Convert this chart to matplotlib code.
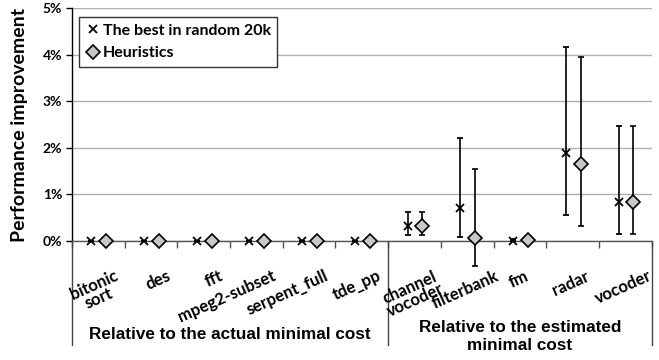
import numpy as np
import matplotlib
matplotlib.use("Agg")
import matplotlib.pyplot as plt
from matplotlib.lines import Line2D
from matplotlib.transforms import blended_transform_factory

plt.rcParams['font.family'] = ['Lato', 'DejaVu Sans']

# data (percent)
categories = ["bitonic\nsort", "des", "fft", "mpeg2-subset", "serpent_full", "tde_pp",
              "channel\nvocoder", "filterbank", "fm", "radar", "vocoder"]
best_val = [0, 0, 0, 0, 0, 0, 0.32, 0.70, 0.01, 1.88, 0.84]
best_hi = [0, 0, 0, 0, 0, 0, 0.62, 2.20, 0.04, 4.17, 2.46]
best_lo = [0, 0, 0, 0, 0, 0, 0.13, 0.09, -0.01, 0.56, 0.14]
heur_val = [0, 0, 0, 0, 0, 0, 0.32, 0.06, 0.02, 1.66, 0.84]
heur_hi = [0, 0, 0, 0, 0, 0, 0.62, 1.55, 0.02, 3.95, 2.46]
heur_lo = [0, 0, 0, 0, 0, 0, 0.13, -0.54, 0.02, 0.33, 0.14]
group_labels = ["Relative to the actual minimal cost", "Relative to the estimated\nminimal cost"]
group_sizes = [6, 5]

fig = plt.figure(figsize=(6.59, 3.6), dpi=100)
ax = fig.add_axes([0.109, 0.3306, 0.880, 0.647])

x = np.arange(len(categories))
bv, hv = np.array(best_val), np.array(heur_val)
best_err = [bv - np.array(best_lo), np.array(best_hi) - bv]
heur_err = [hv - np.array(heur_lo), np.array(heur_hi) - hv]

ax.errorbar(x - 0.13, bv, yerr=best_err, fmt='x', color='black', ms=6, mew=1.3,
            ecolor='black', elinewidth=1.2, capsize=2.5, capthick=1.2,
            clip_on=False, zorder=4)
ax.errorbar(x + 0.15, hv, yerr=heur_err, fmt='D', mfc='#c8c8c8', mec='black', ms=7.5,
            mew=1.2, ecolor='black', elinewidth=1.2, capsize=2.5, capthick=1.2,
            clip_on=False, zorder=5)

ax.set_xlim(-0.5, len(categories) - 0.5)
ax.set_ylim(0, 5)
ax.set_yticks(range(6))
ax.set_yticklabels([f"{i}%" for i in range(6)], fontsize=10, fontweight='bold')
ax.yaxis.grid(True, color='#b0b0b0', lw=1)
ax.set_axisbelow(True)
ax.tick_params(axis='y', length=4, width=1, direction='out', pad=3)
for s in ['top', 'right']:
    ax.spines[s].set_visible(False)
ax.spines['left'].set_linewidth(1)
ax.spines['bottom'].set_linewidth(1)
ax.spines['bottom'].set_color('#555555')

# x ticks at category boundaries
ax.set_xticks(np.arange(len(categories) + 1) - 0.5)
ax.set_xticklabels([])
ax.tick_params(axis='x', length=5, width=1, color='#555555')

trans = blended_transform_factory(ax.transData, ax.transAxes)
for i, name in enumerate(categories):
    if i < group_sizes[0]:
        # first group: right end pinned just right of the category centre
        ax.text(i + 0.29, -0.116, name, transform=trans, rotation=24, rotation_mode='anchor',
                ha='right', va='top', fontsize=12, fontweight='bold', linespacing=0.85,
                multialignment='center')
    else:
        ax.text(i - 0.03, -0.116, name, transform=trans, rotation=24,
                ha='center', va='top', fontsize=12, fontweight='bold', linespacing=0.85,
                multialignment='center')

# group separators and labels
bounds = np.cumsum([0] + group_sizes) - 0.5
for b in bounds:
    ax.plot([b, b], [0, -0.446], transform=trans, color='#444444', lw=1, clip_on=False)
for k, lab in enumerate(group_labels):
    mid = (bounds[k] + bounds[k + 1]) / 2
    ax.text(mid, -0.403 if k == 0 else -0.412, lab, transform=trans, ha='center', va='center',
            fontsize=12.3, fontweight='bold', family=['Liberation Sans', 'DejaVu Sans'],
            linespacing=1.25)

ax.set_ylabel("Performance improvement", fontsize=14, fontweight='bold')
ax.yaxis.set_label_coords(-0.075, 0.5)

handles = [Line2D([], [], ls='none', marker='x', color='black', ms=6, mew=1.3),
           Line2D([], [], ls='none', marker='D', mfc='#c8c8c8', mec='black', ms=7.5, mew=1.2)]
leg = ax.legend(handles, ["The best in random 20k", "Heuristics"], loc='upper left',
                bbox_to_anchor=(0.012, 0.96), fancybox=False,
                edgecolor='#333333', framealpha=1, prop={'weight': 'bold', 'size': 11.5},
                handletextpad=0.1, handlelength=1.0, borderpad=0.4, labelspacing=0.5,
                borderaxespad=0)
leg.get_frame().set_linewidth(1)

fig.savefig("out.png", dpi=100)
